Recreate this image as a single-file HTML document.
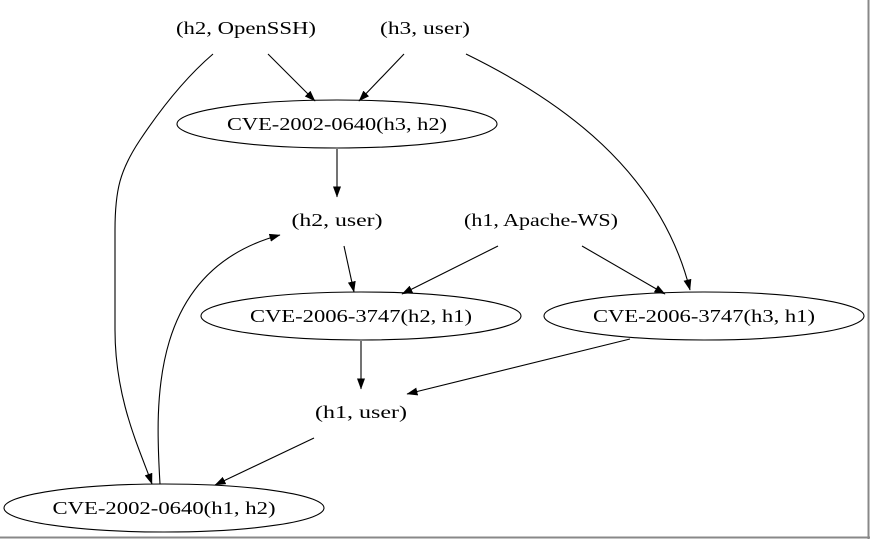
<!DOCTYPE html>
<html><head><meta charset="utf-8"><style>
html,body{margin:0;padding:0;background:#fff;}
svg{display:block;}
text{font-family:"Liberation Serif",serif;font-size:18px;fill:#000;}
</style></head><body>
<svg width="870" height="539" viewBox="0 0 870 539" xmlns="http://www.w3.org/2000/svg">
<defs>
<marker id="a" markerWidth="11" markerHeight="8" refX="10.5" refY="4" orient="auto" markerUnits="userSpaceOnUse">
<path d="M0,0 L11,4 L0,8 Z" fill="#000"/>
</marker>
</defs>
<rect x="0" y="0" width="868" height="537" fill="#fff"/>
<line x1="868.5" y1="0" x2="868.5" y2="539" stroke="#888" stroke-width="2"/>
<line x1="0" y1="537.5" x2="870" y2="537.5" stroke="#888" stroke-width="2"/>
<g fill="none" stroke="#000" stroke-width="1.1">
<ellipse cx="337" cy="124" rx="160" ry="24"/>
<ellipse cx="361" cy="316" rx="160" ry="24"/>
<ellipse cx="704" cy="316" rx="160" ry="24"/>
<ellipse cx="164" cy="508" rx="160" ry="24"/>
<line x1="268" y1="54" x2="315" y2="101" marker-end="url(#a)"/>
<line x1="404" y1="54" x2="359" y2="101" marker-end="url(#a)"/>
<path d="M213,54 C185,78 160,110 140,140 C120,170 115,190 115,230 L115,330 C115,400 140,450 152,484" marker-end="url(#a)"/>
<path d="M466,54 C560,100 660,170 690,290" marker-end="url(#a)"/>
<line x1="337" y1="149" x2="337" y2="197" marker-end="url(#a)"/>
<line x1="344" y1="246" x2="354" y2="292" marker-end="url(#a)"/>
<line x1="498" y1="246" x2="402" y2="294" marker-end="url(#a)"/>
<line x1="582" y1="246" x2="665" y2="294" marker-end="url(#a)"/>
<line x1="361" y1="341" x2="361" y2="389" marker-end="url(#a)"/>
<line x1="630" y1="339" x2="407" y2="394" marker-end="url(#a)"/>
<line x1="314" y1="438" x2="215" y2="485" marker-end="url(#a)"/>
<path d="M160,484 C155,400 150,270 280,235" marker-end="url(#a)"/>
</g>
<g text-anchor="middle">
<text x="246" y="34" textLength="140" lengthAdjust="spacingAndGlyphs">(h2, OpenSSH)</text>
<text x="425" y="34" textLength="90" lengthAdjust="spacingAndGlyphs">(h3, user)</text>
<text x="337" y="130" textLength="220" lengthAdjust="spacingAndGlyphs">CVE-2002-0640(h3, h2)</text>
<text x="337" y="226" textLength="91" lengthAdjust="spacingAndGlyphs">(h2, user)</text>
<text x="541" y="226" textLength="154" lengthAdjust="spacingAndGlyphs">(h1, Apache-WS)</text>
<text x="361" y="322" textLength="222" lengthAdjust="spacingAndGlyphs">CVE-2006-3747(h2, h1)</text>
<text x="704" y="322" textLength="222" lengthAdjust="spacingAndGlyphs">CVE-2006-3747(h3, h1)</text>
<text x="361" y="418" textLength="92" lengthAdjust="spacingAndGlyphs">(h1, user)</text>
<text x="164" y="514" textLength="223" lengthAdjust="spacingAndGlyphs">CVE-2002-0640(h1, h2)</text>
</g>
</svg>
</body></html>
